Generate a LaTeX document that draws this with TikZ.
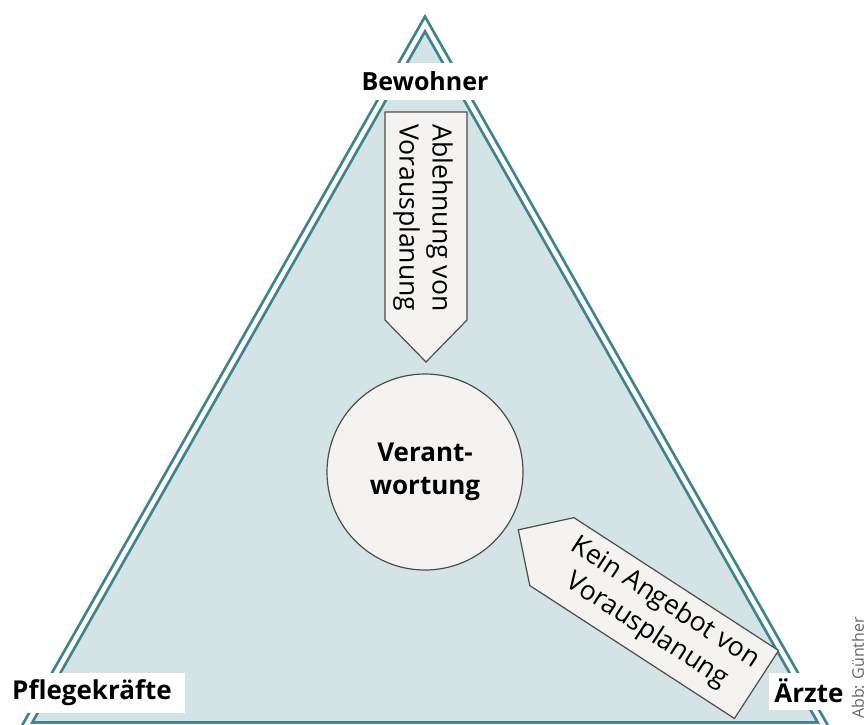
\documentclass[tikz,border=0pt]{standalone}
\usepackage{fontspec}
\setmainfont{Open Sans}
\usetikzlibrary{calc}
\definecolor{trianglefill}{HTML}{D4E4E6}
\definecolor{triangleline}{HTML}{3E8490}
\definecolor{boxfill}{HTML}{F4F3F2}

\begin{document}
\begin{tikzpicture}[x=0.5pt,y=-0.5pt,
  corner/.style={fill=white, font=\bfseries\fontsize{12.5}{15}\selectfont, inner sep=0pt},
  arrowbox/.style={draw=black!70, fill=boxfill, line width=0.6pt, line join=miter},
  arrowtext/.style={font=\fontsize{13.3}{16.5}\selectfont, align=center}]
\useasboundingbox (0,0) rectangle (866,724);
\clip (0,0) rectangle (866,724);
% triangle
\draw[fill=trianglefill, draw=triangleline, line width=1.4pt, double=white, double distance=2.2pt, line join=miter] (425,24) -- (824,726) -- (26,726) -- cycle;
% corner labels
\node[corner, minimum width=70pt, minimum height=18.5pt] (bewohner) at (425,81) {Bewohner};
\node[corner, minimum width=92.5pt, minimum height=20pt] (pflege) at (92,693) {\fontsize{13}{15}\selectfont Pflegekräfte};
\node[corner, minimum width=40pt, minimum height=18.5pt] (aerzte) at (809,691) {\fontsize{13}{15}\selectfont Ärzte};
% center
\node[circle, draw=black!70, fill=boxfill, line width=0.6pt, minimum size=98pt, align=center, font=\bfseries\fontsize{13}{16.5}\selectfont] (verantwortung) at (425,472) {Verant-\\wortung};
% arrows
\begin{scope}[shift={(426,112)}, rotate=-90]
  \draw[arrowbox] (0,-41) -- (208,-41) -- (250,0) -- (208,41) -- (0,41) -- cycle;
\end{scope}
\node[arrowtext, rotate=-90] (ablehnung) at (423,218) {Ablehnung von\\Vorausplanung};
\begin{scope}[shift={(756.5,684.5)}, rotate=147]
  \draw[arrowbox] (0,-40.5) -- (244,-40.5) -- (284,0) -- (244,40.5) -- (0,40.5) -- cycle;
\end{scope}
\node[arrowtext, rotate=-33] (angebot) at (656,617) {Kein Angebot von\\Vorausplanung};
% credit
\node[rotate=90, text=black!60, font=\fontsize{8}{9}\selectfont] (credit) at (858,668) {Abb: Günther};
\end{tikzpicture}
\end{document}
